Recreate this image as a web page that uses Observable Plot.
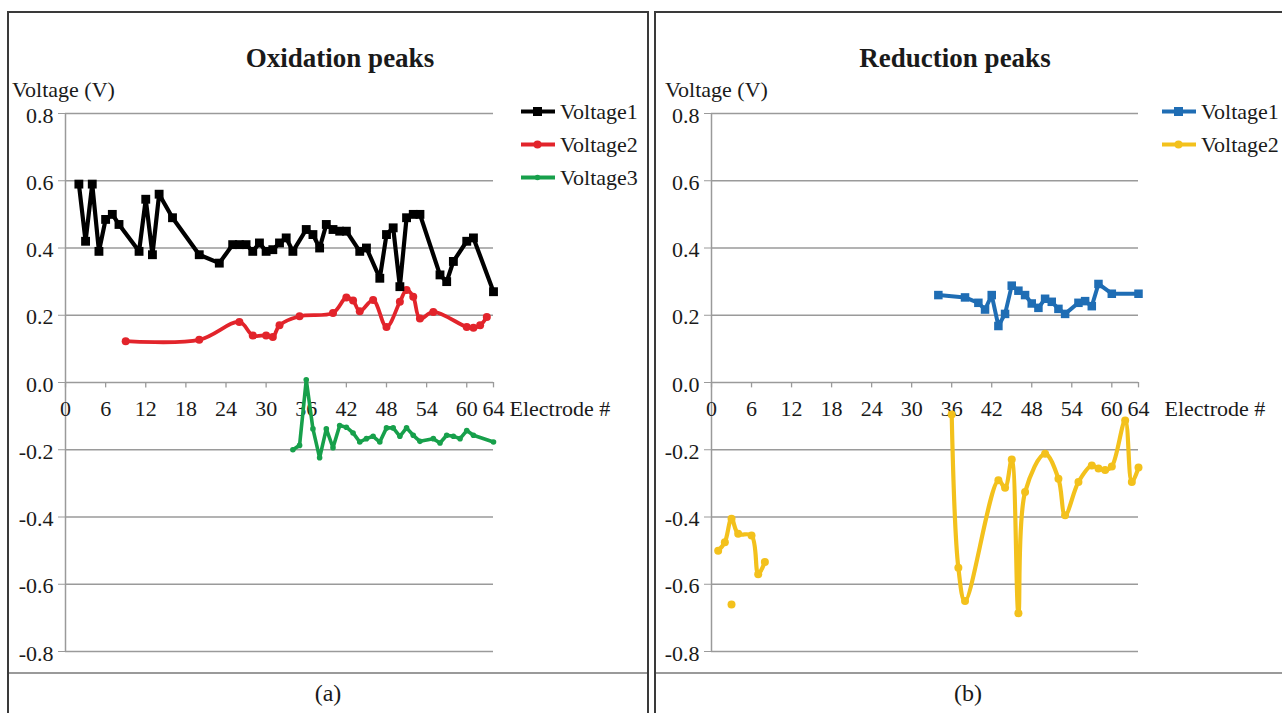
<!DOCTYPE html>
<html><head><meta charset="utf-8">
<script src="https://cdn.jsdelivr.net/npm/d3@7"></script>
<script src="https://cdn.jsdelivr.net/npm/@observablehq/plot@0.6"></script>
<style>
body{margin:0;background:#fff;}
#wrap{position:relative;width:1282px;height:713px;overflow:hidden;background:#fff;font-family:"Liberation Serif","Times New Roman",serif;color:#1a1a1a;}
.abs{position:absolute;}
.title{font-weight:bold;font-size:27px;text-align:center;width:400px;line-height:30px;}
.ylab{font-size:22px;line-height:24px;white-space:nowrap;}
.cap{font-size:24px;text-align:center;width:100px;line-height:26px;}
.leg{font-size:22px;line-height:33px;}
.leg div{display:flex;align-items:center;height:33px;white-space:nowrap;}
.leg svg{margin-right:4px;}
</style></head><body><div id="wrap"></div>
<script>
// ---- axis ticks ----
const xTicks = [0, 6, 12, 18, 24, 30, 36, 42, 48, 54, 60, 64];
const yTicks = [-0.8, -0.6, -0.4, -0.2, 0, 0.2, 0.4, 0.6, 0.8];

// ---- (a) Oxidation peaks ----
const oxV1Electrode = [2,3,4,5,6,7,8,11,12,13,14,16,20,23,25,26,27,28,29,30,31,32,33,34,36,37,38,39,40,41,42,44,45,47,48,49,50,51,52,53,56,57,58,60,61,64];
const oxV1Voltage   = [0.59,0.42,0.59,0.39,0.485,0.5,0.47,0.39,0.545,0.38,0.56,0.49,0.38,0.355,0.41,0.41,0.41,0.39,0.415,0.39,0.395,0.415,0.43,0.39,0.455,0.44,0.40,0.47,0.455,0.45,0.45,0.39,0.40,0.31,0.44,0.46,0.285,0.49,0.50,0.50,0.32,0.30,0.36,0.42,0.43,0.27];
const oxV2Electrode = [9,20,26,28,30,31,32,35,40,42,43,44,46,48,50,51,52,53,55,60,61,62,63];
const oxV2Voltage   = [0.123,0.127,0.18,0.14,0.14,0.135,0.17,0.197,0.207,0.253,0.244,0.212,0.245,0.165,0.24,0.275,0.255,0.19,0.21,0.165,0.163,0.17,0.195];
const oxV3Electrode = [34,35,36,37,38,39,40,41,42,43,44,45,46,47,48,49,50,51,52,53,55,56,57,58,59,60,61,64];
const oxV3Voltage   = [-0.2,-0.187,0.008,-0.138,-0.224,-0.138,-0.194,-0.128,-0.133,-0.15,-0.177,-0.167,-0.16,-0.177,-0.135,-0.135,-0.16,-0.135,-0.157,-0.175,-0.167,-0.18,-0.157,-0.16,-0.167,-0.143,-0.157,-0.177];

// ---- (b) Reduction peaks ----
const redV1Electrode = [34,38,40,41,42,43,44,45,46,47,48,49,50,51,52,53,55,56,57,58,60,64];
const redV1Voltage   = [0.26,0.253,0.237,0.217,0.26,0.168,0.204,0.288,0.273,0.26,0.235,0.222,0.249,0.24,0.219,0.204,0.237,0.242,0.227,0.293,0.264,0.264];
const redV2LowElectrode  = [1,2,3,4,6,7,8];
const redV2LowVoltage    = [-0.5,-0.475,-0.405,-0.45,-0.455,-0.57,-0.534];
const redV2IsoElectrode  = [3];
const redV2IsoVoltage    = [-0.66];
const redV2HighElectrode = [36,37,38,43,44,45,46,47,50,52,53,55,57,58,59,60,62,63,64];
const redV2HighVoltage   = [-0.095,-0.551,-0.65,-0.291,-0.313,-0.229,-0.686,-0.326,-0.212,-0.286,-0.395,-0.296,-0.247,-0.256,-0.26,-0.25,-0.113,-0.296,-0.253];

const zip = (xs, ys) => xs.map((x, i) => ({x, y: ys[i]}));

function seriesMarks(data, color, sw, symbol, r, curve) {
  return [
    Plot.line(data, {x: "x", y: "y", stroke: color, strokeWidth: sw, curve: curve || "linear", strokeLinejoin: "round", strokeLinecap: "round"}),
    Plot.dot(data, {x: "x", y: "y", fill: color, stroke: "none", symbol, r})
  ];
}

function chart(width, marginLeft, marginRight, labelDx, series) {
  return Plot.plot({
    width, height: 660,
    marginLeft, marginRight, marginTop: 101, marginBottom: 21,
    x: {domain: [0, 64], axis: null},
    y: {domain: [-0.8, 0.8], axis: null},
    style: {fontFamily: "'Liberation Serif','Times New Roman',serif", background: "transparent", color: "#1a1a1a"},
    marks: [
      Plot.gridY(yTicks, {stroke: "#9a9a9a", strokeOpacity: 1, strokeWidth: 1.3}),
      Plot.ruleX([0], {y1: -0.8, y2: 0.8, stroke: "#9a9a9a", strokeWidth: 1.5}),
      Plot.ruleX(xTicks, {x: d => d, y1: 0, y2: -0.016, stroke: "#9a9a9a", strokeWidth: 1.3}),
      Plot.axisY(yTicks, {tickSize: 7, tickFormat: () => "", color: "#9a9a9a", label: null}),
      Plot.axisY(yTicks, {tickSize: 0, tickPadding: 12, tickFormat: d => d.toFixed(1), fontSize: 22, dy: 2, color: "#1a1a1a", label: null}),
      Plot.text(xTicks, {x: d => d, y: 0, text: d => String(d), dy: 26, fontSize: 22, fill: "#1a1a1a"}),
      Plot.text(["Electrode #"], {x: () => 64, y: () => 0, text: d => d, dx: labelDx, dy: 26, textAnchor: "start", fontSize: 22, fill: "#1a1a1a"}),
      ...series
    ]
  });
}

const wrap = document.getElementById("wrap");
function add(html) { wrap.insertAdjacentHTML("beforeend", html); }

// panel frames
add('<div class="abs" style="left:7px;top:11px;width:642px;height:720px;border:2px solid #3a3a3a;box-sizing:border-box"></div>');
add('<div class="abs" style="left:654px;top:11px;width:700px;height:720px;border-left:2px solid #3a3a3a;border-top:2px solid #3a3a3a;box-sizing:border-box"></div>');
add('<div class="abs" style="left:9px;top:672px;width:638px;height:1.5px;background:#9a9a9a"></div>');
add('<div class="abs" style="left:656px;top:672px;width:630px;height:1.5px;background:#9a9a9a"></div>');

const black = "#000000", red = "#e2242b", green = "#17a04b", blue = "#1f6db4", yellow = "#f3c11c";

const left = chart(640, 57, 155, 16, [
  ...seriesMarks(zip(oxV2Electrode, oxV2Voltage), red, 3.8, "circle", 4, "catmull-rom"),
  ...seriesMarks(zip(oxV3Electrode, oxV3Voltage), green, 3.6, "circle", 2.8),
  ...seriesMarks(zip(oxV1Electrode, oxV1Voltage), black, 4.2, "square", 5)
]);
left.style.position = "absolute"; left.style.left = "8px"; left.style.top = "12px";
wrap.appendChild(left);

const right = chart(627, 56, 144, 26, [
  ...seriesMarks(zip(redV1Electrode, redV1Voltage), blue, 4, "square", 4.8),
  ...seriesMarks(zip(redV2LowElectrode, redV2LowVoltage), yellow, 4.2, "circle", 4, "catmull-rom"),
  Plot.dot(zip(redV2IsoElectrode, redV2IsoVoltage), {x: "x", y: "y", fill: yellow, r: 4}),
  ...seriesMarks(zip(redV2HighElectrode, redV2HighVoltage), yellow, 4.2, "circle", 4, "catmull-rom")
]);
right.style.position = "absolute"; right.style.left = "655px"; right.style.top = "12px";
wrap.appendChild(right);

// titles and labels
add('<div class="abs title" style="left:140px;top:43px">Oxidation peaks</div>');
add('<div class="abs title" style="left:755px;top:43px">Reduction peaks</div>');
add('<div class="abs ylab" style="left:12px;top:78px">Voltage (V)</div>');
add('<div class="abs ylab" style="left:665px;top:78px">Voltage (V)</div>');
add('<div class="abs cap" style="left:278px;top:680px">(a)</div>');
add('<div class="abs cap" style="left:918px;top:680px">(b)</div>');

// legends
function legItem(color, shape, label) {
  const m = shape === "square"
    ? `<rect x="13" y="2" width="9" height="9" fill="${color}"/>`
    : shape === "small"
      ? `<circle cx="17.5" cy="6.5" r="2.8" fill="${color}"/>`
      : `<circle cx="17.5" cy="6.5" r="4" fill="${color}"/>`;
  return `<div><svg width="36" height="13"><line x1="1" y1="6.5" x2="35" y2="6.5" stroke="${color}" stroke-width="4"/>${m}</svg><span>${label}</span></div>`;
}
const oxNames = ["Voltage1", "Voltage2", "Voltage3"];
const redNames = ["Voltage1", "Voltage2"];
add(`<div class="abs leg" style="left:520px;top:95px">${legItem(black, "square", oxNames[0])}${legItem(red, "circle", oxNames[1])}${legItem(green, "small", oxNames[2])}</div>`);
add(`<div class="abs leg" style="left:1161px;top:95px">${legItem(blue, "square", redNames[0])}${legItem(yellow, "circle", redNames[1])}</div>`);
</script>
</body></html>
